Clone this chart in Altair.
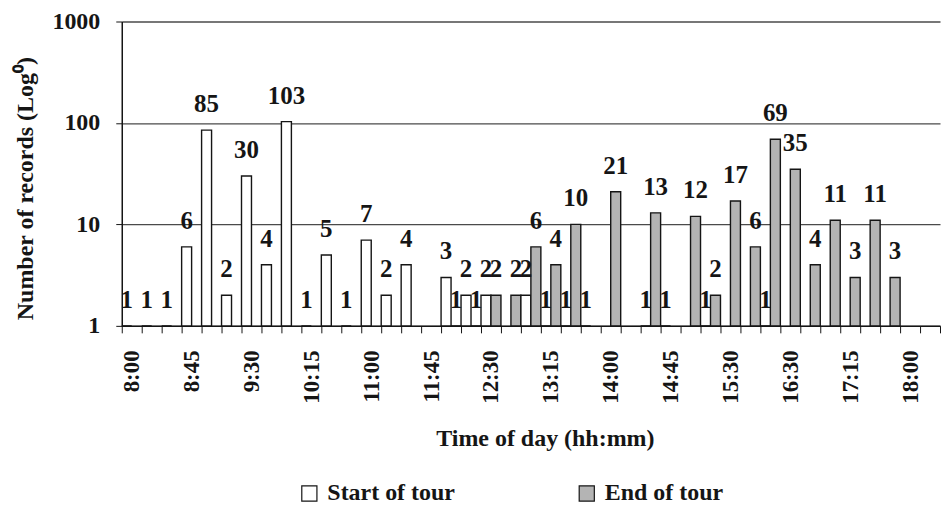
import json
import altair as alt
import pandas as pd

# 15-minute categories (the source axis skips 16:15)
SLOTS = ["8:00", "8:15", "8:30", "8:45", "9:00", "9:15", "9:30", "9:45", "10:00", "10:15",
         "10:30", "10:45", "11:00", "11:15", "11:30", "11:45", "12:00", "12:15", "12:30", "12:45",
         "13:00", "13:15", "13:30", "13:45", "14:00", "14:15", "14:30", "14:45", "15:00", "15:15",
         "15:30", "15:45", "16:00", "16:30", "16:45", "17:00", "17:15", "17:30", "17:45", "18:00",
         "18:15"]

START = [1, 1, 1, 6, 85, 2, 30, 4, 103, 1,
         5, 1, 7, 2, 4, None, 3, 2, 2, None,
         2, 1, 1, 1, None, None, 1, 1, None, 1,
         None, None, 1, None, None, None, None, None, None, None,
         None]

END = [None, None, None, None, None, None, None, None, None, None,
       None, None, None, None, None, None, 1, 1, 2, 2,
       6, 4, 10, None, 21, None, 13, None, 12, 2,
       17, 6, 69, 35, 4, 11, 3, 11, 3, None,
       None]

TICK_LABELS = ["8:00", "8:45", "9:30", "10:15", "11:00", "11:45", "12:30", "13:15",
               "14:00", "14:45", "15:30", "16:30", "17:15", "18:00"]
Y_TICKS = [1, 10, 100, 1000]
SERIES = ["Start of tour", "End of tour"]
COLORS = ["#ffffff", "#b4b4b4"]

rows = []
for slot, s, e in zip(SLOTS, START, END):
    if s is not None:
        rows.append({"slot": slot, "series": SERIES[0], "value": s})
    if e is not None:
        rows.append({"slot": slot, "series": SERIES[1], "value": e})
df = pd.DataFrame(rows)

FONT = "Liberation Serif"
INK = "#151515"

label_expr = "indexof(" + json.dumps(TICK_LABELS) + ", datum.value) >= 0 ? datum.value : ''"

x = alt.X(
    "slot:N",
    sort=SLOTS,
    scale=alt.Scale(domain=SLOTS, paddingInner=0, paddingOuter=0),
    axis=alt.Axis(
        title="Time of day (hh:mm)",
        labelAngle=270,
        labelExpr=label_expr,
        labelOverlap=False,
        tickBand="extent",
        tickSize=7,
        labelPadding=17,
        labelFont=FONT,
        labelFontSize=23,
        labelFontWeight="bold",
        labelColor=INK,
        titleFont=FONT,
        titleFontSize=24,
        titleFontWeight="bold",
        titleColor=INK,
        titleX=424,
        titleY=113,
        titleAlign="center",
        titleBaseline="middle",
        domainColor=INK,
        domainWidth=1.5,
        tickColor=INK,
        grid=False,
    ),
)
xoff = alt.XOffset(
    "series:N",
    sort=SERIES,
    scale=alt.Scale(domain=SERIES, paddingInner=0, paddingOuter=0),
)
y = alt.Y(
    "value:Q",
    scale=alt.Scale(type="log", domain=[1, 1000], nice=False),
    axis=alt.Axis(
        title="Number of records (Log⁰)",
        values=Y_TICKS,
        format="d",
        tickSize=6,
        labelPadding=16,
        labelFont=FONT,
        labelFontSize=24,
        labelFontWeight="bold",
        labelColor=INK,
        titleFont=FONT,
        titleFontSize=24,
        titleFontWeight="bold",
        titleColor=INK,
        titleAngle=270,
        titleX=-96,
        titleY=167,
        titleAlign="center",
        titleBaseline="middle",
        domainColor=INK,
        domainWidth=1.5,
        tickColor=INK,
        grid=True,
        gridColor="#4a4a4a",
        gridWidth=1.3,
    ),
)

bars = alt.Chart(df).mark_bar(stroke=INK, strokeWidth=1.4).encode(
    x=x,
    xOffset=xoff,
    y=y,
    y2=alt.datum(1),
    color=alt.Color(
        "series:N",
        scale=alt.Scale(domain=SERIES, range=COLORS),
        legend=alt.Legend(
            title=None,
            orient="none",
            legendX=176,
            legendY=461,
            direction="horizontal",
            symbolType="square",
            symbolSize=230,
            symbolStrokeColor=INK,
            symbolStrokeWidth=1.2,
            labelFont=FONT,
            labelFontSize=24,
            labelFontWeight="bold",
            labelColor=INK,
            labelOffset=6,
            columnPadding=120,
            padding=0,
        ),
    ),
)

labels = alt.Chart(df).mark_text(
    font=FONT, fontWeight="bold", fontSize=25, baseline="alphabetic", dy=-18, color=INK
).encode(x=x, xOffset=xoff, y=y, text="value:Q")

chart = (
    (bars + labels)
    .properties(
        width=820,
        height=305,
        autosize=alt.AutoSizeParams(type="none"),
        padding={"left": 114, "top": 13, "right": 4, "bottom": 178},
        background="white",
    )
    .configure_view(stroke=None)
)

chart.save("out.html", embed_options={"renderer": "svg", "actions": False})
